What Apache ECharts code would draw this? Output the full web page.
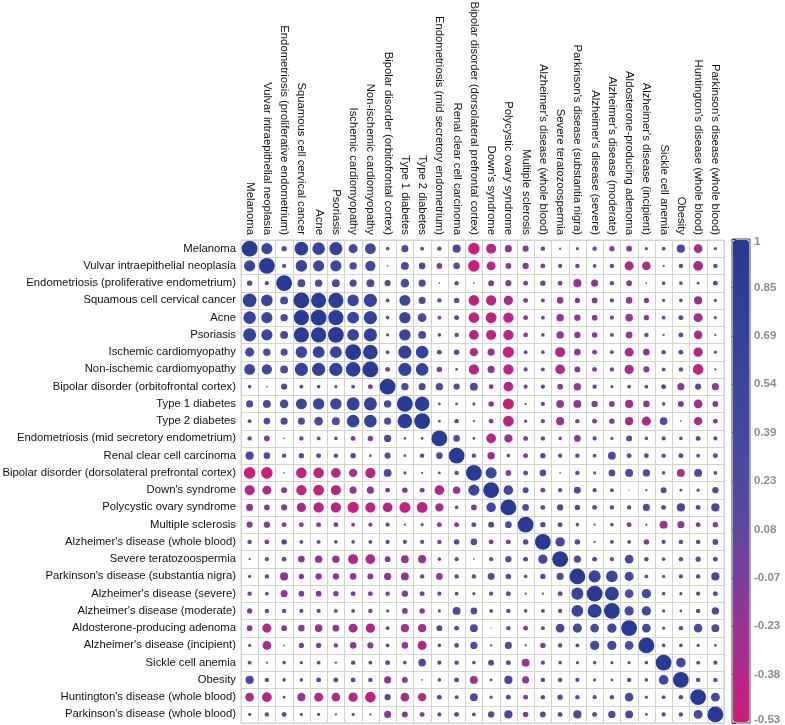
<!DOCTYPE html>
<html><head><meta charset="utf-8">
<script src="https://cdn.jsdelivr.net/npm/echarts@6/dist/echarts.min.js"></script>
<style>html,body{margin:0;padding:0;background:#fff}#c{width:785px;height:725px}</style>
</head><body><div id="c"></div>
<script>
const categories = [
  "Melanoma","Vulvar intraepithelial neoplasia","Endometriosis (proliferative endometrium)",
  "Squamous cell cervical cancer","Acne","Psoriasis","Ischemic cardiomyopathy",
  "Non-ischemic cardiomyopathy","Bipolar disorder (orbitofrontal cortex)","Type 1 diabetes",
  "Type 2 diabetes","Endometriosis (mid secretory endometrium)","Renal clear cell carcinoma",
  "Bipolar disorder (dorsolateral prefrontal cortex)","Down's syndrome","Polycystic ovary syndrome",
  "Multiple sclerosis","Alzheimer's disease (whole blood)","Severe teratozoospermia",
  "Parkinson's disease (substantia nigra)","Alzheimer's disease (severe)","Alzheimer's disease (moderate)",
  "Aldosterone-producing adenoma","Alzheimer's disease (incipient)","Sickle cell anemia","Obesity",
  "Huntington's disease (whole blood)","Parkinson's disease (whole blood)"
];
// upper-triangle rows: rowNN holds correlations of category NN with categories NN+1 .. 27
const row00 = [0.5,0.12,0.75,0.63,0.68,0.33,0.47,-0.05,0.2,0.06,-0.08,0.27,-0.53,-0.4,-0.2,-0.15,0.08,0.02,-0.04,-0.08,-0.11,-0.13,-0.04,-0.06,0.27,-0.3,-0.04];
const row01 = [0.07,0.53,0.5,0.5,0.22,0.42,0.01,0.25,0.17,-0.13,0.17,-0.53,-0.32,-0.13,-0.16,-0.1,-0.07,-0.08,-0.06,-0.08,-0.33,-0.3,-0.02,0.08,-0.38,-0.08];
const row02 = [0.25,0.22,0.25,0.2,0.25,0.15,0.29,0.2,0.01,0.08,-0.01,-0.14,-0.15,-0.1,0.12,-0.09,-0.26,-0.2,-0.08,-0.13,0.01,0.05,0.05,0.03,0.1];
const row03 = [0.92,0.92,0.53,0.7,-0.06,0.48,0.2,-0.08,0.12,-0.45,-0.42,-0.34,-0.1,0.06,-0.17,-0.11,-0.13,-0.07,-0.17,-0.11,-0.04,0.05,-0.26,-0.04];
const row04 = [0.93,0.56,0.7,-0.05,0.52,0.3,-0.06,0.1,-0.45,-0.46,-0.43,-0.1,0.06,-0.22,-0.16,-0.13,-0.07,-0.23,-0.11,-0.06,0.1,-0.32,-0.04];
const row05 = [0.56,0.7,0.04,0.52,0.25,-0.05,0.08,-0.38,-0.4,-0.42,-0.09,0.05,-0.22,-0.16,-0.12,-0.06,-0.18,-0.08,-0.02,0.1,-0.29,-0.02];
const row06 = [0.85,0.06,0.68,0.63,-0.1,0.12,-0.28,-0.2,-0.5,-0.06,0.05,-0.4,-0.17,-0.1,-0.06,-0.32,-0.17,-0.08,0.1,-0.34,-0.04];
const row07 = [-0.1,0.68,0.63,-0.12,0.03,-0.42,-0.2,-0.42,-0.07,0.06,-0.38,-0.14,-0.1,-0.08,-0.34,-0.15,-0.06,0.08,-0.45,-0.02];
const row08 = [0.22,0.2,0.22,0.15,0.25,-0.09,-0.38,-0.07,0.07,-0.13,-0.21,-0.08,-0.04,-0.06,0.06,0.1,-0.2,0.15,-0.2];
const row09 = [0.85,0.03,0.03,-0.04,-0.12,-0.48,0.02,-0.07,-0.24,-0.25,-0.16,-0.13,-0.27,-0.17,0.05,-0.14,-0.3,-0.14];
const row10 = [0.03,0.08,0.02,-0.1,-0.46,0.04,-0.07,-0.26,-0.08,-0.1,-0.12,-0.27,-0.33,0.23,0.01,-0.28,-0.1];
const row11 = [0.17,0.03,-0.38,-0.28,-0.1,-0.08,-0.05,-0.18,-0.07,-0.04,0.14,0.05,0.07,-0.05,0.1,-0.07];
const row12 = [0.08,-0.22,0.05,-0.1,0.12,0.07,0.08,0.06,0.25,0.1,0.09,0.08,0.1,0.06,0.1];
const row13 = [0.5,-0.13,0.1,0.17,0.01,0.08,0.04,0.18,0.25,0.21,0.05,-0.25,0.25,0.06];
const row14 = [0.37,0.14,-0.1,-0.07,0.19,0.07,0.06,0.005,0.02,0.14,0.03,0.04,0.16];
const row15 = [0.18,-0.1,0.16,0.12,0.1,0.08,0.08,0.2,0.1,0.27,0.1,0.27];
const row16 = [0.12,0.1,-0.05,0.02,0.05,-0.1,0.02,-0.25,-0.2,-0.1,-0.12];
const row17 = [0.35,0.12,0.02,0.06,0.06,-0.12,0.07,0.08,0.08,0.13];
const row18 = [0.2,0.1,0.07,0.3,0.08,0.05,0.08,0.11,0.1];
const row19 = [0.58,0.55,0.33,0.06,0.04,0.07,0.08,0.27];
const row20 = [0.78,0.3,0.34,0.05,0.04,0.07,0.1];
const row21 = [0.34,0.34,0.04,0.03,0.08,0.22];
const row22 = [0.3,0.04,0.08,0.29,0.25];
const row23 = [0.05,0.05,0.04,0.03];
const row24 = [0.37,0.06,0.07];
const row25 = [0.08,0.08];
const row26 = [0.32];
const upperRows = [row00,row01,row02,row03,row04,row05,row06,row07,row08,row09,row10,row11,row12,row13,
  row14,row15,row16,row17,row18,row19,row20,row21,row22,row23,row24,row25,row26];
const colorTicks = ["-0.53","-0.38","-0.23","-0.07","0.08","0.23","0.39","0.54","0.69","0.85","1"];
const colorMin = -0.533, colorMax = 1;
const palette = ['#cb1d79','#b4268a','#983395','#7a3e9c','#5f469f','#4d499f','#42489e','#3a459c','#33419a','#2d3e97','#283a93'];

const n = categories.length;
const data = [];
for (let i = 0; i < n; i++) {
  for (let j = 0; j < n; j++) {
    let v;
    if (i === j) v = 1;
    else if (j > i) v = upperRows[i][j - i - 1];
    else v = upperRows[j][i - j - 1];
    data.push([j, i, v]);
  }
}
const FONT = 'Liberation Sans, Arial, sans-serif';
const tickStyle = {color: '#8c8c8c', fontWeight: 'bold', fontSize: 11.5, fontFamily: FONT};
const chart = echarts.init(document.getElementById('c'), null, {renderer: 'canvas'});
chart.setOption({
  animation: false,
  backgroundColor: '#fff',
  grid: [
    {left: 241, top: 240, width: 483, height: 483, show: true, borderColor: '#d2d2d2', borderWidth: 1,
     backgroundColor: 'transparent', containLabel: false, outerBoundsMode: 'none'},
    {left: 732, top: 239, width: 18, height: 484, show: true, borderColor: '#444', borderWidth: 1,
     backgroundColor: 'transparent', containLabel: false, outerBoundsMode: 'none'}
  ],
  xAxis: [
    {type: 'category', data: categories, position: 'top', gridIndex: 0,
     axisLine: {show: false}, axisTick: {show: false},
     axisLabel: {interval: 0, rotate: 90, margin: 5, color: '#111', fontSize: 11.3, fontFamily: FONT},
     splitLine: {show: true, interval: 0, lineStyle: {color: '#d2d2d2', width: 1}}},
    {type: 'value', gridIndex: 1, show: false, min: 0, max: 1}
  ],
  yAxis: [
    {type: 'category', data: categories, inverse: true, gridIndex: 0,
     axisLine: {show: false}, axisTick: {show: false},
     axisLabel: {interval: 0, margin: 5, color: '#111', fontSize: 11.3, fontFamily: FONT},
     splitLine: {show: true, interval: 0, lineStyle: {color: '#d2d2d2', width: 1}}},
    {type: 'category', data: colorTicks, gridIndex: 1, position: 'right', boundaryGap: false,
     axisLine: {show: false},
     axisTick: {show: true, length: 4, interval: 0, lineStyle: {color: '#444', width: 1}},
     axisLabel: {interval: 0, margin: 4,
       formatter: function (v, i) {
         if (i === 0) return '{lo|' + v + '}';
         if (i === colorTicks.length - 1) return '{hi|' + v + '}';
         return '{m|' + v + '}';
       },
       rich: {
         m: tickStyle,
         lo: Object.assign({padding: [0, 0, 7, 0]}, tickStyle),
         hi: Object.assign({padding: [6, 0, 0, 0]}, tickStyle)
       }},
     splitLine: {show: false}}
  ],
  visualMap: {
    type: 'continuous', min: colorMin, max: colorMax, dimension: 2, seriesIndex: 0,
    calculable: false, orient: 'vertical', left: 733, top: 240, itemWidth: 16, itemHeight: 482,
    padding: 0, text: null, showLabel: false,
    inRange: {color: palette}
  },
  series: [
    {type: 'scatter', xAxisIndex: 0, yAxisIndex: 0, data: data, silent: true,
     symbolSize: function (val) { return 15.8 * Math.sqrt(Math.abs(val[2])); },
     itemStyle: {opacity: 1}},
    {type: 'scatter', xAxisIndex: 1, yAxisIndex: 1, data: [], silent: true}
  ]
});
</script>
</body></html>
